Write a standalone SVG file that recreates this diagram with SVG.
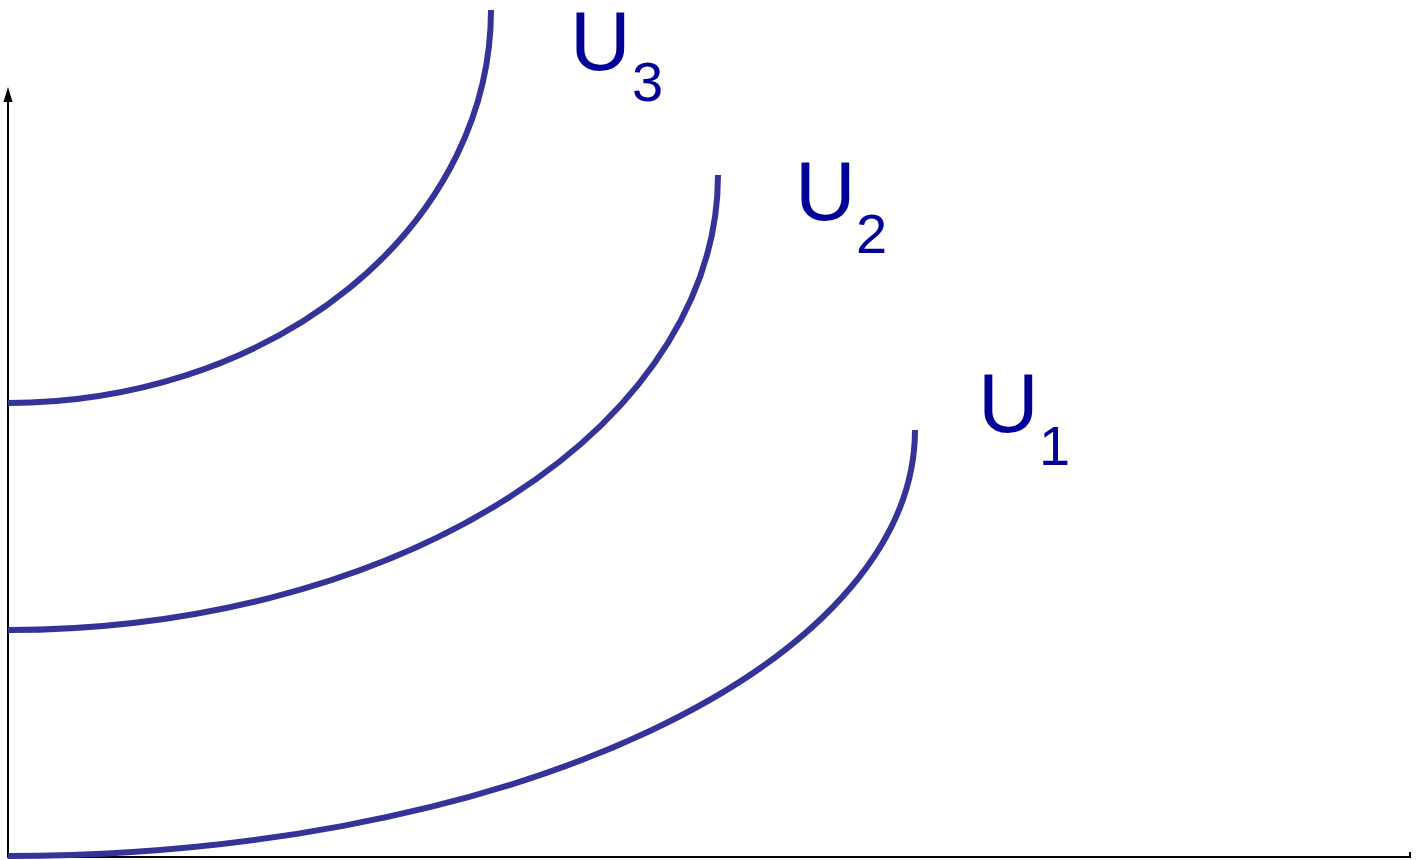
<svg xmlns="http://www.w3.org/2000/svg" width="1418" height="860" viewBox="0 0 1418 860">
<style>
.axis{stroke:#000;stroke-width:2;fill:none}
.curve{stroke:#333399;stroke-width:6;fill:none}
.lbl{font-family:"Liberation Sans",Arial,sans-serif;fill:#000099}
.big{font-size:84px}
.sub{font-size:56px}
</style>
<rect width="1418" height="860" fill="#fff"/>
<g id="axes">
<line class="axis" x1="8" y1="858" x2="8" y2="100"/>
<path d="M8,87 L12.5,102 L3.5,102 Z" fill="#000"/>
<line class="axis" x1="7" y1="857" x2="1411" y2="857"/>
<line class="axis" x1="1410" y1="852" x2="1410" y2="858"/>
</g>
<g id="connectors">
<path id="U1-curve" class="curve" d="M8,856 A907,426 0 0 0 915,430"/>
<path id="U2-curve" class="curve" d="M8,630 A710,455 0 0 0 718,175"/>
<path id="U3-curve" class="curve" d="M8,403 A483,393 0 0 0 491,10"/>
</g>
<g id="U3">
<text class="lbl big" x="570" y="70">U</text>
<text class="lbl sub" x="632" y="101">3</text>
</g>
<g id="U2">
<text class="lbl big" x="795" y="220">U</text>
<text class="lbl sub" x="856" y="253">2</text>
</g>
<g id="U1">
<text class="lbl big" x="978" y="432">U</text>
<text class="lbl sub" x="1039" y="465">1</text>
</g>
</svg>
